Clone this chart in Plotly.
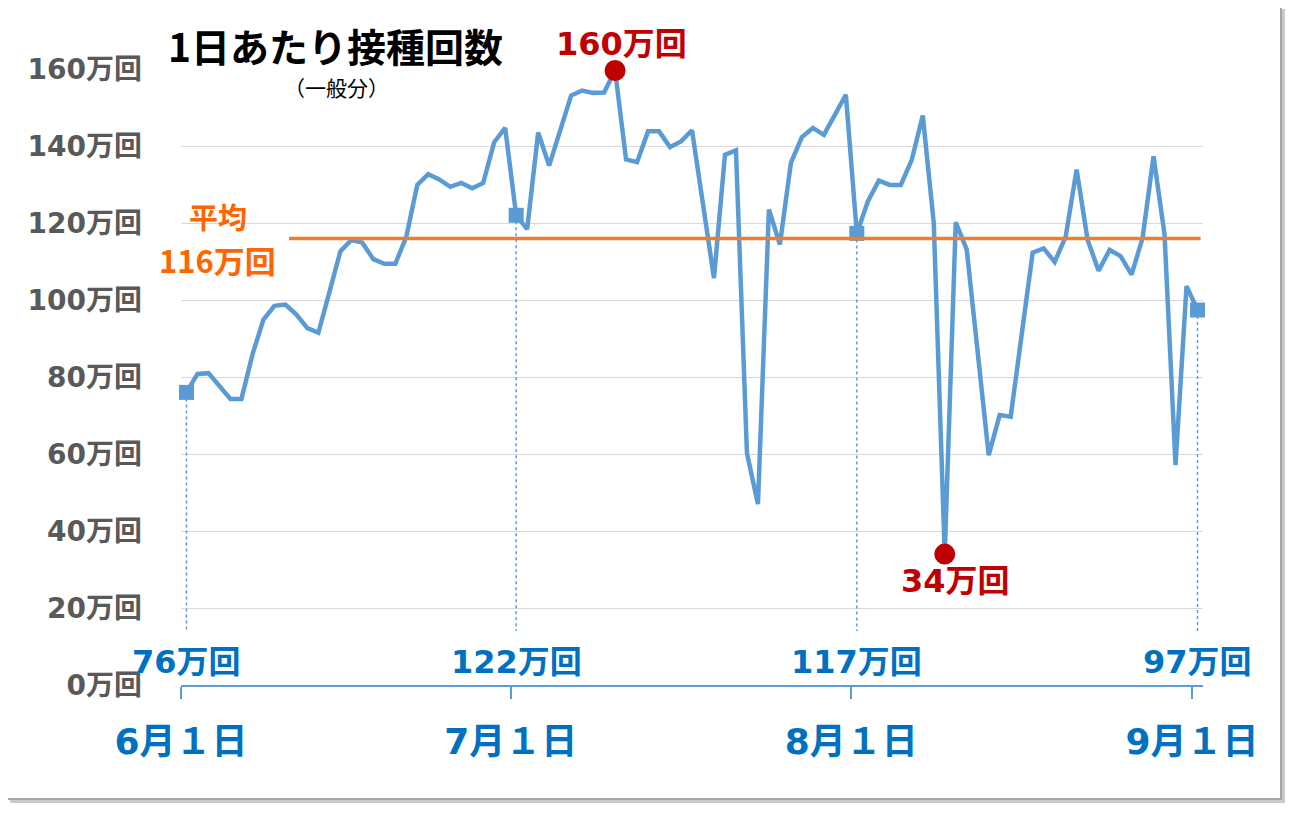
import pandas as pd
import plotly.graph_objects as go

# ---------------- data ----------------
START_DATE = "2021-06-01"
DAILY_VALUES = [
    76, 80.8, 81, 77.7, 74.3, 74.3, 85.8, 94.9, 98.5, 98.8,
    96.2, 92.7, 91.5, 102, 112.6, 115.6, 114.9, 110.6, 109.4, 109.4,
    116.4, 129.9, 132.7, 131.3, 129.4, 130.4, 129.0, 130.4, 141, 144.7,
    122, 118.4, 143.5, 134.9, 144, 153.1, 154.4, 153.8, 153.9, 159.6,
    136.5, 135.8, 143.8, 143.8, 139.7, 141.2, 144.1, 125, 105.7, 137.7,
    138.9, 60.2, 47, 123.5, 114.4, 135.6, 142.3, 144.7, 142.9, 148.1,
    153.3, 117.3, 125.6, 131, 129.9, 129.9, 136.4, 147.9, 120, 34,
    120.2, 113.1, 85, 59.7, 70.1, 69.7, 91, 112.3, 113.4, 109.9,
    116.4, 133.9, 115.6, 107.6, 113, 111.4, 106.6, 116.1, 137.3, 117,
    57.1, 103.6, 97.4,
]
AVERAGE = 116
Y_TICKS = [0, 20, 40, 60, 80, 100, 120, 140, 160]
MONTH_TICKS = ["2021-06-01", "2021-07-01", "2021-08-01", "2021-09-01"]
MONTH_LABELS = ["6月１日", "7月１日", "8月１日", "9月１日"]
TITLE = "1日あたり接種回数"
SUBTITLE = "（一般分）"
AVG_LABEL = "平均"
UNIT = "万回"

# ---------------- styles ----------------
FONT = "Noto Sans CJK JP"
WIDE = "DejaVu Sans, Noto Sans CJK JP"
LINE_BLUE = "#5B9BD5"
TEXT_BLUE = "#0070C0"
DARK_RED = "#C00000"
ORANGE_LINE = "#ED7D31"
ORANGE_TEXT = "#FF6600"
GRAY_TEXT = "#595959"

dates = pd.date_range(START_DATE + " 12:00", periods=len(DAILY_VALUES), freq="D")
s = pd.Series(DAILY_VALUES, index=dates)
month_pts = [pd.Timestamp(m + " 12:00") for m in MONTH_TICKS]
i_max = s.idxmax()
i_min = s.idxmin()

fig = go.Figure()

# drop lines from month-start points
for d in month_pts:
    fig.add_trace(go.Scatter(
        x=[d, d], y=[s[d], 14], mode="lines",
        line=dict(color=LINE_BLUE, width=1.5, dash="dot"),
        hoverinfo="skip", showlegend=False))

# main line
fig.add_trace(go.Scatter(
    x=s.index, y=s.values, mode="lines",
    line=dict(color=LINE_BLUE, width=4.5), showlegend=False, cliponaxis=False))

# month-start markers
fig.add_trace(go.Scatter(
    x=month_pts, y=[s[d] for d in month_pts], mode="markers",
    marker=dict(symbol="square", size=15, color=LINE_BLUE),
    showlegend=False, cliponaxis=False))

# max / min markers
fig.add_trace(go.Scatter(
    x=[i_max, i_min], y=[s[i_max], s[i_min]], mode="markers",
    marker=dict(symbol="circle", size=21, color=DARK_RED),
    showlegend=False, cliponaxis=False))

annotations = []
# month value labels
for d in month_pts:
    annotations.append(dict(
        x=d, y=6, xref="x", yref="y", text=f"{round(s[d])}{UNIT}",
        showarrow=False, font=dict(family=WIDE, size=32, color=TEXT_BLUE, weight="bold"),
        xanchor="center", yanchor="middle"))

# max / min labels
annotations.append(dict(
    x=i_max, y=s[i_max], xref="x", yref="y", text=f"{round(s[i_max])}{UNIT}",
    showarrow=False, font=dict(family=WIDE, size=32, color=DARK_RED, weight="bold"),
    xanchor="center", yanchor="middle", xshift=6, yshift=27))
annotations.append(dict(
    x=i_min, y=s[i_min], xref="x", yref="y", text=f"{round(s[i_min])}{UNIT}",
    showarrow=False, font=dict(family=WIDE, size=32, color=DARK_RED, weight="bold"),
    xanchor="center", yanchor="middle", xshift=11, yshift=-27))

# average labels
annotations.append(dict(
    x=0.036, y=AVERAGE, xref="paper", yref="y", text=AVG_LABEL,
    showarrow=False, font=dict(family=FONT, size=29, color=ORANGE_TEXT, weight="bold"),
    xanchor="center", yanchor="middle", yshift=22))
annotations.append(dict(
    x=0.036, y=AVERAGE, xref="paper", yref="y", text=f"{AVERAGE}{UNIT}",
    showarrow=False, font=dict(family=FONT, size=31, color=ORANGE_TEXT, weight="bold"),
    xanchor="center", yanchor="middle", yshift=-21))

# title
annotations.append(dict(
    x=0.1507, y=1.039, xref="paper", yref="paper", text=TITLE,
    showarrow=False, font=dict(family=FONT, size=39, color="#000000", weight="bold"),
    xanchor="center", yanchor="middle"))
annotations.append(dict(
    x=0.1517, y=0.971, xref="paper", yref="paper", text=SUBTITLE,
    showarrow=False, font=dict(family=FONT, size=21, color="#000000"),
    xanchor="center", yanchor="middle"))

shapes = [
    # frame shadow
    dict(type="rect", xref="paper", yref="paper", x0=-0.167, x1=1.0802, y0=-0.1916, y1=1.0974,
         fillcolor="#C9C9C9", line=dict(width=0), layer="below"),
    # frame
    dict(type="rect", xref="paper", yref="paper", x0=-0.1712, x1=1.0763, y0=-0.185, y1=1.1039,
         fillcolor="#FFFFFF", line=dict(color="#A6A6A6", width=2), layer="below"),
    # average line
    dict(type="line", xref="paper", yref="y", x0=0.1057, x1=0.9977, y0=AVERAGE, y1=AVERAGE,
         line=dict(color=ORANGE_LINE, width=3.5), layer="above"),
]

fig.update_layout(
    width=1296, height=814,
    margin=dict(l=173, r=101, t=61, b=137, autoexpand=False),
    paper_bgcolor="#FFFFFF", plot_bgcolor="rgba(0,0,0,0)",
    font=dict(family=FONT),
    showlegend=False,
    annotations=annotations,
    shapes=shapes,
    xaxis=dict(
        type="date",
        range=[START_DATE, "2021-09-02"],
        tickvals=MONTH_TICKS, ticktext=MONTH_LABELS,
        ticks="outside", ticklen=12, tickcolor=LINE_BLUE, tickwidth=1.5,
        showline=True, linecolor=LINE_BLUE, linewidth=1.5,
        showgrid=False, zeroline=False,
        tickfont=dict(family=WIDE, size=36, color=TEXT_BLUE, weight="bold"),
        ticklabelstandoff=12,
    ),
    yaxis=dict(
        range=[0, 160], tickvals=Y_TICKS,
        ticktext=[f"{v}{UNIT}" for v in Y_TICKS],
        showgrid=True, gridcolor="#D9D9D9", gridwidth=1,
        showline=False, zeroline=False, ticks="",
        tickfont=dict(family=WIDE, size=28, color=GRAY_TEXT, weight="bold"),
        ticklabelstandoff=38,
    ),
)

fig.write_html("out.html")
